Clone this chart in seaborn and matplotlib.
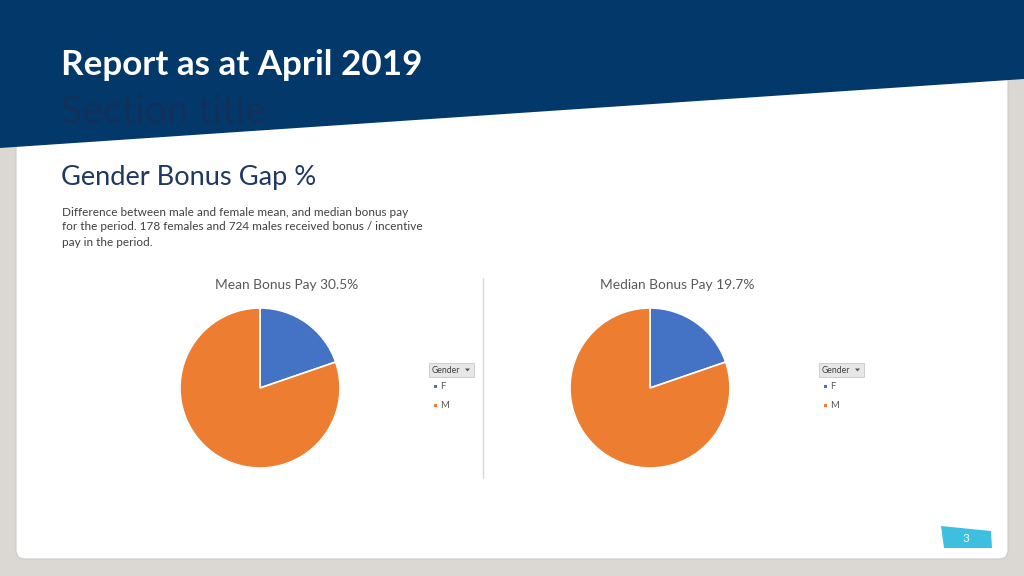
import matplotlib.pyplot as plt
import matplotlib.patches as mpatches
import seaborn as sns

# gender split of bonus recipients (same split in both pies)
genders = ['F', 'M']
mean_counts = [178, 724]
median_counts = [178, 724]
chart_titles = ['Mean Bonus Pay 30.5%', 'Median Bonus Pay 19.7%']
sub_lines = ['Difference between male and female mean, and median bonus pay',
             'for the period. 178 females and 724 males received bonus / incentive',
             'pay in the period.']
gender_colors = sns.color_palette(['#4472C4', '#ED7D31'])

sns.set_style('white')
plt.rcParams['font.family'] = ['Lato', 'DejaVu Sans']

W, H = 1024, 576
fig = plt.figure(figsize=(10.24, 5.76), dpi=100)
fig.patch.set_facecolor('#dbd8d4')

# page layer in pixel coordinates
bg = fig.add_axes([0, 0, 1, 1])
bg.set_xlim(0, W)
bg.set_ylim(H, 0)
bg.axis('off')

card = mpatches.FancyBboxPatch((16, 20), 992, 539, boxstyle='round,pad=0,rounding_size=9',
                               fc='white', ec='#cfccc8', lw=0.8)
bg.add_patch(card)
header = mpatches.Polygon([(0, 0), (W, 0), (W, 79), (0, 148)], closed=True, fc='#02386a', ec='none')
bg.add_patch(header)

bg.text(61, 65, 'Report as at April 2019', color='white', fontsize=25.2, fontweight='bold',
        va='center', ha='left')
bg.text(61, 112, 'Section title', color='#11305c', fontsize=28, va='center', ha='left')

bg.text(61, 177, 'Gender Bonus Gap %', color='#1f3864', fontsize=19.6, va='center', ha='left')
for k, line in enumerate(sub_lines):
    bg.text(62, 212 + 15 * k, line, color='#404040', fontsize=8.5, va='center', ha='left')

# divider between the two charts
bg.plot([483, 483], [278, 478], color='#d9d9d9', lw=1)

# page number tab
tab = mpatches.Polygon([(941, 526), (991, 531), (992, 548), (944, 548)], closed=True,
                       fc='#3fbfe0', ec='none')
bg.add_patch(tab)
bg.text(966, 538, '3', color='white', fontsize=8.5, ha='center', va='center')

for i, (counts, title) in enumerate(zip([mean_counts, median_counts], chart_titles)):
    dx = 390 * i
    bg.text(287 + dx, 285, title, color='#595959', fontsize=9.9, ha='center', va='center')

    cx, cy, r = 260 + dx, 388, 80
    ax = fig.add_axes([(cx - r) / W, (H - cy - r) / H, 2 * r / W, 2 * r / H])
    ax.pie(counts, colors=gender_colors, startangle=90, counterclock=False,
           wedgeprops=dict(edgecolor='white', linewidth=1.2))
    ax.set_xlim(-1, 1)
    ax.set_ylim(-1, 1)
    ax.set_aspect('auto')
    ax.axis('off')

    # legend field button and entries
    lx = 429 + dx
    bg.add_patch(mpatches.Rectangle((lx, 363), 45, 14, fc='#e7e7e7', ec='#c8c8c8', lw=0.6))
    bg.text(lx + 3, 370.5, 'Gender', color='#404040', fontsize=6.2, ha='left', va='center')
    bg.add_patch(mpatches.Polygon([(lx + 36, 368.5), (lx + 41, 368.5), (lx + 38.5, 371.5)],
                                  closed=True, fc='#555555', ec='none'))
    for j, g in enumerate(genders):
        yy = 386 + 19 * j
        bg.add_patch(mpatches.Rectangle((lx + 5, yy - 1.5), 3.2, 3.2, fc=gender_colors[j], ec='none'))
        bg.text(lx + 11, yy + 0.8, g, color='#595959', fontsize=6.8, ha='left', va='center')

fig.savefig('out.png', dpi=100, facecolor=fig.get_facecolor())
